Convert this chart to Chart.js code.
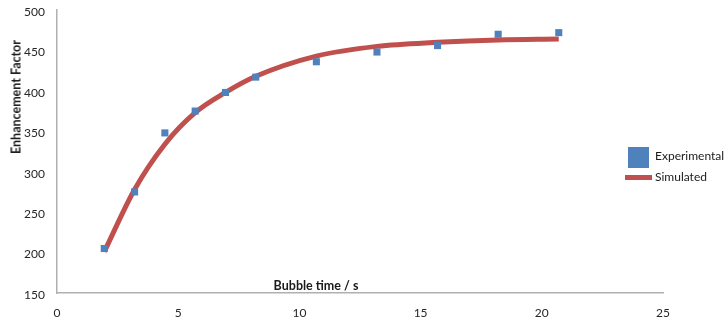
<!DOCTYPE html>
<html>
<head>
<meta charset="utf-8">
<script src="https://cdn.jsdelivr.net/npm/chart.js@4"></script>
<style>
    body { margin: 0; background: #fff; }
    #wrap { position: relative; width: 727px; height: 326px; font-family: Lato, 'Open Sans', sans-serif; color: #1a1a1a; }
    #chart { position: absolute; left: 0; top: 0; }
    .title { position: absolute; font-weight: bold; font-size: 12.5px; white-space: nowrap; }
    #yTitle { left: 16px; top: 97px; transform: translate(-50%, -50%) rotate(-90deg); }
    #xTitle { left: 316px; top: 285px; transform: translate(-50%, -50%); }
    .legend { position: absolute; font-size: 12px; white-space: nowrap; }
</style>
</head>
<body>
<div id="wrap">
    <canvas id="chart" width="727" height="326"></canvas>
    <div class="title" id="yTitle">Enhancement Factor</div>
    <div class="title" id="xTitle">Bubble time / s</div>
    <div class="legend" style="left:655px; top:148px;">Experimental</div>
    <div style="position:absolute; left:628px; top:147px; width:21px; height:21px; background:#4F81BD;"></div>
    <div class="legend" style="left:655px; top:169px;">Simulated</div>
    <div style="position:absolute; left:625px; top:175px; width:27px; height:5px; background:#C0504D;"></div>
</div>
<script>
// Chart values
const bubbleTimes = [1.95, 3.2, 4.45, 5.7, 6.95, 8.2, 10.7, 13.2, 15.7, 18.2, 20.7];
const experimental = [205, 275, 348, 375, 398, 417, 436, 448, 456, 470, 472];
const simulated = [201, 278, 334, 373, 398, 418, 443, 455, 460, 463, 464];
const xTicks = [0, 5, 10, 15, 20, 25];
const yTicks = [150, 200, 250, 300, 350, 400, 450, 500];

function toPoints(xs, ys) {
    return xs.map(function(x, i) { return { x: x, y: ys[i] }; });
}

document.addEventListener('DOMContentLoaded', function() {
    const ctx = document.getElementById('chart').getContext('2d');

    new Chart(ctx, {
        type: 'scatter',
        data: {
            datasets: [{
                label: 'Experimental',
                data: toPoints(bubbleTimes, experimental),
                backgroundColor: '#4F81BD',
                borderColor: '#4F81BD',
                pointStyle: 'rect',
                pointRadius: 5,
                borderWidth: 0,
                order: 0
            }, {
                label: 'Simulated',
                data: toPoints(bubbleTimes, simulated),
                showLine: true,
                borderColor: '#C0504D',
                backgroundColor: '#C0504D',
                borderWidth: 5,
                pointRadius: 0,
                cubicInterpolationMode: 'monotone',
                order: 1
            }]
        },
        options: {
            responsive: false,
            animation: false,
            layout: { padding: { top: 10, right: 64, left: 0, bottom: 0 } },
            scales: {
                x: {
                    type: 'linear',
                    min: 0,
                    max: 25,
                    afterBuildTicks: function(scale) {
                        scale.ticks = xTicks.map(function(v) { return { value: v }; });
                    },
                    afterFit: function(scale) {
                        scale.height = 33;
                        scale.paddingLeft = 0;
                        scale.paddingRight = 0;
                    },
                    grid: { display: false, drawTicks: false },
                    border: { display: true, color: '#B0B0B0', width: 1.5 },
                    ticks: { padding: 13, color: '#262626', font: { family: 'Lato', size: 12 }, maxRotation: 0 }
                },
                y: {
                    min: 150,
                    max: 500,
                    afterBuildTicks: function(scale) {
                        scale.ticks = yTicks.map(function(v) { return { value: v }; });
                    },
                    afterFit: function(scale) {
                        scale.width = 57;
                        scale.paddingTop = 0;
                        scale.paddingBottom = 0;
                    },
                    grid: { display: false, drawTicks: false },
                    border: { display: true, color: '#B0B0B0', width: 1.5 },
                    ticks: { padding: 12, labelOffset: 2, color: '#262626', font: { family: 'Lato', size: 12 } }
                }
            },
            plugins: {
                legend: { display: false },
                tooltip: { enabled: false }
            }
        }
    });
});
</script>
</body>
</html>
